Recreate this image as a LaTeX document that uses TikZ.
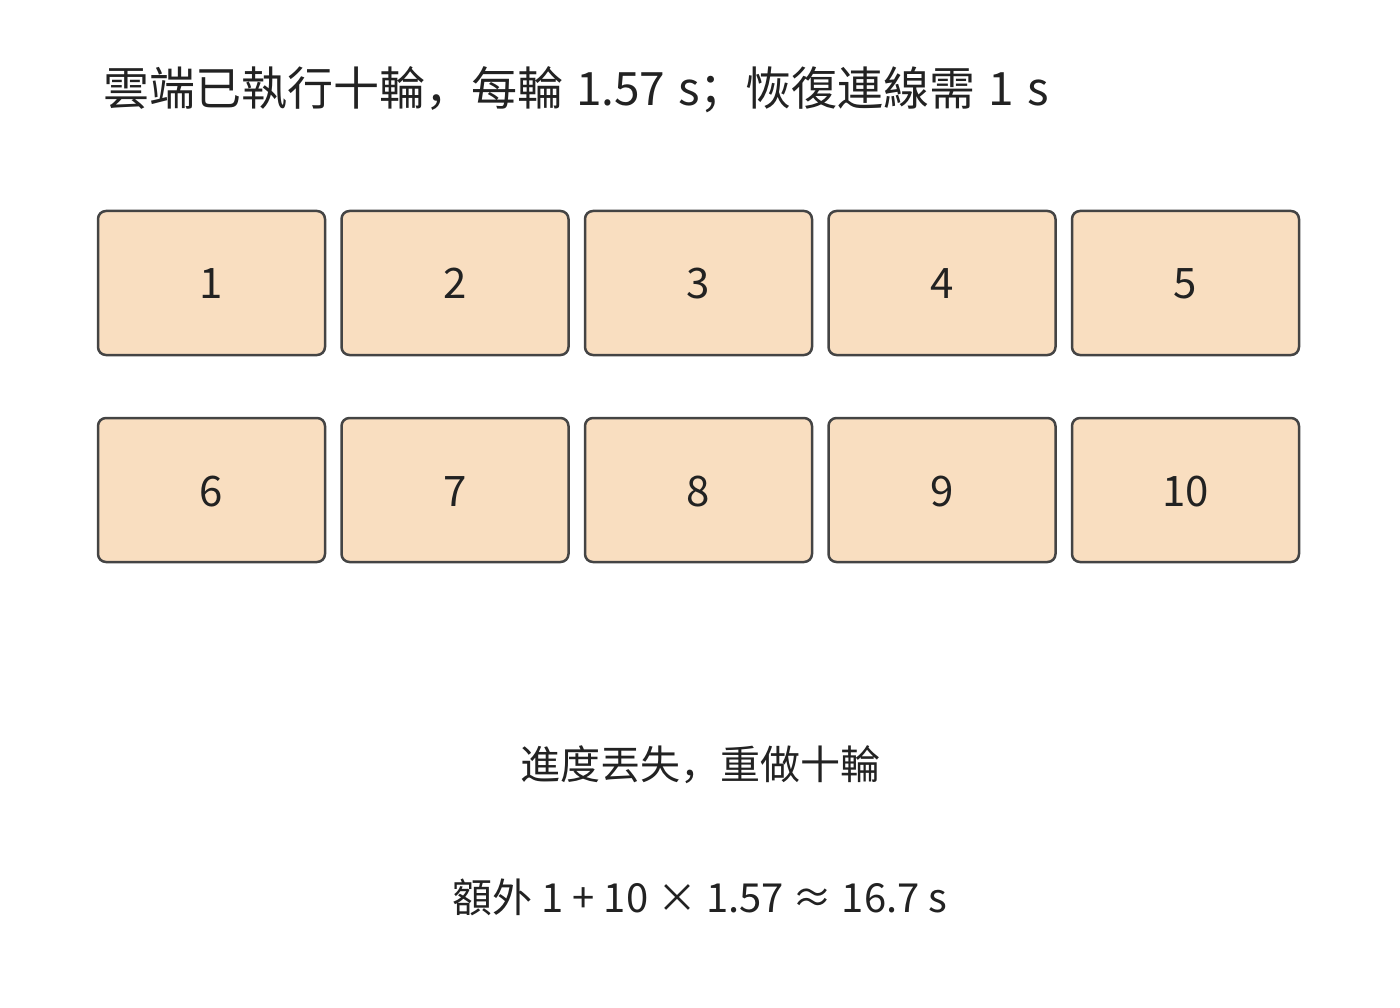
\documentclass[tikz,border=0pt]{standalone}
\usepackage{fontspec}
\setmainfont{Noto Sans CJK SC}
\newfontfamily\cjk{Noto Sans CJK SC}
\definecolor{boxfill}{HTML}{F9DEC0}
\definecolor{boxline}{HTML}{444444}
\definecolor{txt}{HTML}{222222}
\begin{document}
\begin{tikzpicture}[x=1pt,y=-1pt,
  cell/.style={draw=boxline, fill=boxfill, line width=2.5pt, rounded corners=8pt,
    minimum width=227pt, minimum height=144pt, inner sep=0pt},
  celltext/.style={anchor=base, text=txt, font=\cjk\fontsize{42}{48}\selectfont},
  note/.style={anchor=base, text=txt, font=\cjk\fontsize{40}{46}\selectfont}]
\useasboundingbox (0,0) rectangle (1400,1008);
\node[anchor=base west, text=txt, font=\cjk\fontsize{46}{52}\selectfont, inner sep=0pt] (title) at (103,106) {\spaceskip=0.28em\relax 雲端已執行十輪，每輪 1.57 s；恢復連線需 1 s};
\foreach \i/\x in {1/211.5,2/455,3/698.5,4/942,5/1185.5} {
  \node[cell] (b\i) at (\x,283) {};
  \node[celltext, inner sep=0pt] (t\i) at (\x,299) {\i};
}
\foreach \i/\x in {6/211.5,7/455,8/698.5,9/942,10/1185.5} {
  \node[cell] (b\i) at (\x,490) {};
  \node[celltext, inner sep=0pt] (t\i) at (\x,506) {\i};
}
\node[note, inner sep=0pt] (lost) at (700,779) {進度丟失，重做十輪};
\node[note, inner sep=0pt] (extra) at (700,912) {額外 1 + 10 × 1.57 ≈ 16.7 s};
\end{tikzpicture}
\end{document}
